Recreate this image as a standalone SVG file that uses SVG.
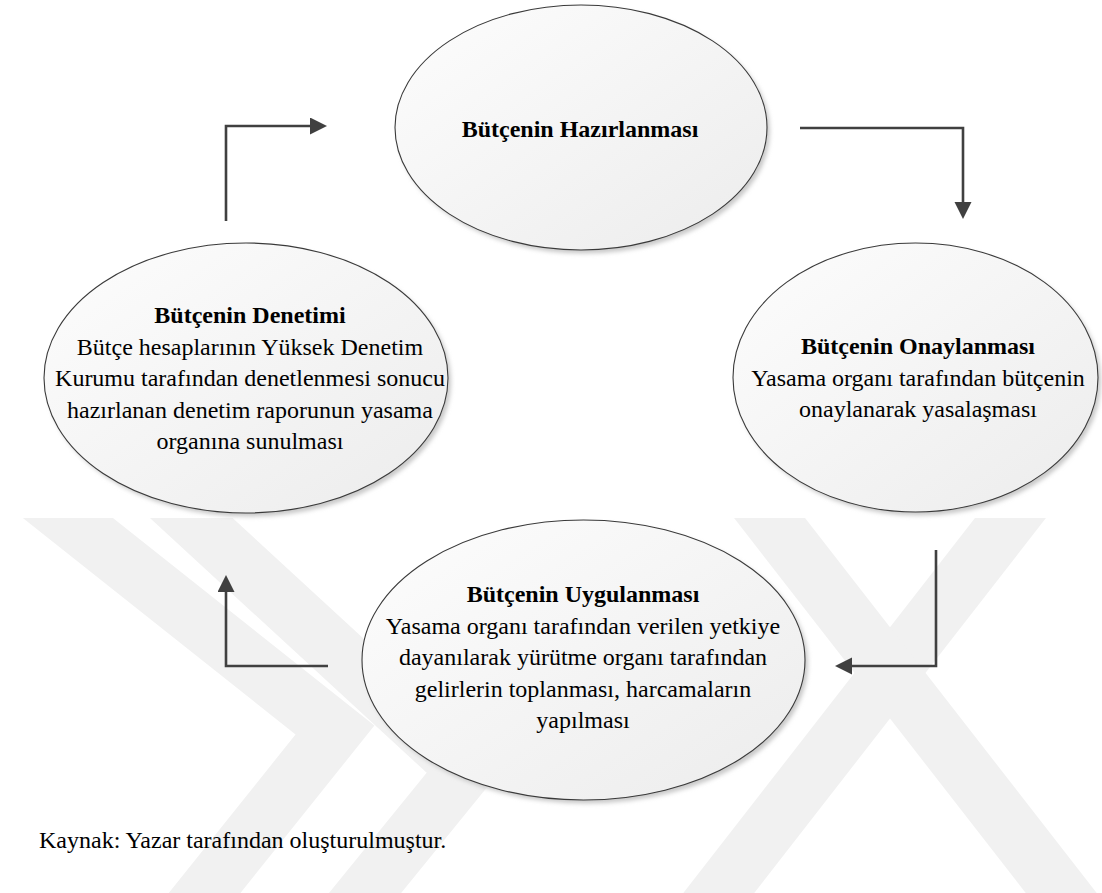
<svg xmlns="http://www.w3.org/2000/svg" width="1102" height="893" viewBox="0 0 1102 893">
<style>
.wm{fill:none;stroke:#f1f1f1;stroke-width:56;stroke-linejoin:miter}
.shape{stroke:#3a3a3a;stroke-width:1.1;fill:url(#g)}
.shadow{fill:#c9c9c9;filter:url(#blur)}
.t{font-family:"Liberation Serif","Times New Roman",serif;font-size:24px;fill:#000;text-anchor:middle}
.b{font-weight:bold}
.con{fill:none;stroke:#404040;stroke-width:2.6}
.src{font-family:"Liberation Serif","Times New Roman",serif;font-size:24px;fill:#000}
</style>
<defs>
<linearGradient id="g" x1="0" y1="0" x2="1" y2="1">
<stop offset="0" stop-color="#fdfdfd"/>
<stop offset="1" stop-color="#ececec"/>
</linearGradient>
<filter id="blur" x="-10%" y="-10%" width="120%" height="120%"><feGaussianBlur stdDeviation="2"/></filter>
<clipPath id="wmclip"><rect x="0" y="518" width="1102" height="375"/></clipPath>
<marker id="ah" markerUnits="userSpaceOnUse" markerWidth="18" markerHeight="18" refX="0" refY="8.5" orient="auto">
<path d="M0,0 L17,8.5 L0,17 z" fill="#404040"/>
</marker>
</defs>
<rect width="1102" height="893" fill="#fff"/>
<g id="watermark" clip-path="url(#wmclip)">
<polyline class="wm" points="20,480 335,730 175,930"/>
<polyline class="wm" points="150,480 465,770 335,930"/>
<polyline class="wm" points="1040,480 690,930"/>
<polyline class="wm" points="740,480 1090,930"/>
</g>
<g id="connectors">
<path class="con" d="M226,221 V126 H310" marker-end="url(#ah)"/>
<path class="con" d="M800,128 H963 V202" marker-end="url(#ah)"/>
<path class="con" d="M936,550 V666 H852" marker-end="url(#ah)"/>
<path class="con" d="M328,666 H226 V592" marker-end="url(#ah)"/>
</g>
<g id="n1">
<ellipse class="shadow" cx="584" cy="131" rx="186" ry="122.5"/>
<ellipse class="shape" cx="581" cy="127.5" rx="186" ry="122.5"/>
<text class="t b" x="580" y="137">Bütçenin Hazırlanması</text>
</g>
<g id="n2">
<ellipse class="shadow" cx="918.5" cy="381" rx="182.5" ry="134.5"/>
<ellipse class="shape" cx="915.5" cy="377.5" rx="182.5" ry="134.5"/>
<text class="t b" x="918" y="354">Bütçenin Onaylanması</text>
<text class="t" x="918" y="386">Yasama organı tarafından bütçenin</text>
<text class="t" x="918" y="417">onaylanarak yasalaşması</text>
</g>
<g id="n3">
<ellipse class="shadow" cx="586.5" cy="663.5" rx="221.5" ry="140"/>
<ellipse class="shape" cx="583.5" cy="660" rx="221.5" ry="140"/>
<text class="t b" x="583" y="602">Bütçenin Uygulanması</text>
<text class="t" x="583" y="633.5">Yasama organı tarafından verilen yetkiye</text>
<text class="t" x="583" y="665">dayanılarak yürütme organı tarafından</text>
<text class="t" x="583" y="696.5">gelirlerin toplanması, harcamaların</text>
<text class="t" x="583" y="728">yapılması</text>
</g>
<g id="n4">
<ellipse class="shadow" cx="249" cy="381.5" rx="202" ry="135"/>
<ellipse class="shape" cx="246" cy="378" rx="202" ry="135"/>
<text class="t b" x="250" y="323">Bütçenin Denetimi</text>
<text class="t" x="250" y="354.5">Bütçe hesaplarının Yüksek Denetim</text>
<text class="t" x="250" y="386">Kurumu tarafından denetlenmesi sonucu</text>
<text class="t" x="250" y="417.5">hazırlanan denetim raporunun yasama</text>
<text class="t" x="250" y="449">organına sunulması</text>
</g>
<text class="src" x="39" y="848">Kaynak: Yazar tarafından oluşturulmuştur.</text>
</svg>
